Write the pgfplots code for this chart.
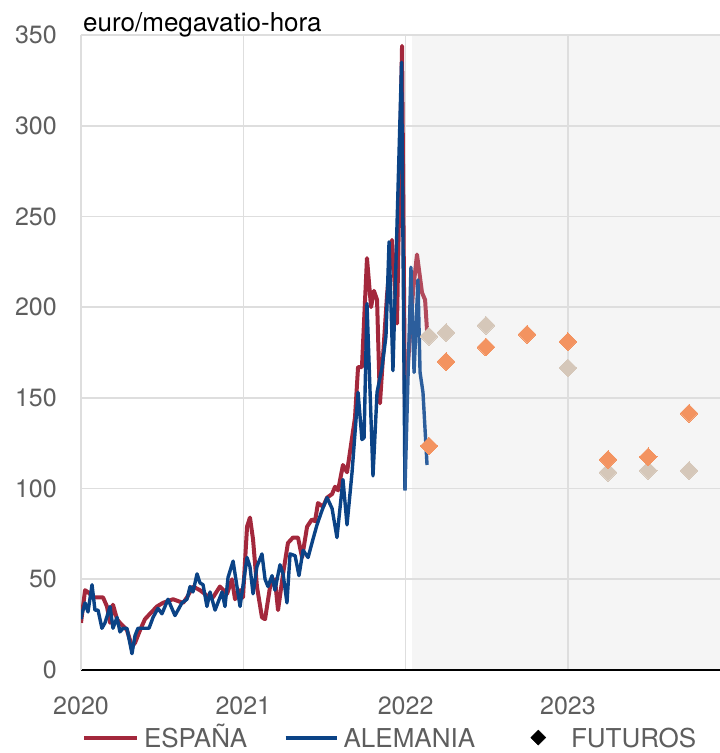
\documentclass[border=0pt]{standalone}
\usepackage{pgfplots}
\pgfplotsset{compat=1.18}
\usepackage{fontspec}
\setmainfont{TeX Gyre Heros}
\definecolor{espcol}{HTML}{A3283C}
\definecolor{espcolL}{HTML}{B24A5B}
\definecolor{alecol}{HTML}{0B4386}
\definecolor{alecolL}{HTML}{2C5E9C}
\definecolor{orangecol}{HTML}{F39360}
\definecolor{beigecol}{HTML}{D5C7B9}
\definecolor{gridcol}{HTML}{DEDEDE}
\definecolor{shadecol}{HTML}{F5F5F5}
\definecolor{tickcol}{HTML}{5E5E5E}
\begin{document}
\begin{tikzpicture}
\begin{axis}[
  name=ax,
  at={(0,0)}, anchor=south west,
  scale only axis, width=639bp, height=635bp,
  xmin=2020, xmax=2023.937, ymin=0, ymax=350,
  set layers,
  axis x line*=bottom, axis y line*=left,
  x axis line style={draw=black, line width=2bp, -},
  y axis line style={draw=gridcol, line width=1.6bp, -},
  xtick={2020,2021,2022,2023}, xticklabels={2020,2021,2022,2023},
  ytick={0,50,...,350},
  grid=major, major grid style={draw=gridcol, line width=1.6bp},
  major tick length=0pt,
  /pgf/number format/assume math mode=true,
  tick label style={font=\fontsize{25bp}{30bp}\selectfont, text=tickcol},
  yticklabel style={anchor=east, inner sep=0pt, xshift=-24bp},
  xticklabel style={anchor=north, inner sep=0pt, yshift=-27bp},
  legend columns=3,
  legend style={
    at={(0,0)}, anchor=south west, xshift=1bp, yshift=-77bp,
    draw=none, fill=none, inner sep=0pt, outer sep=0pt,
    font=\fontsize{26bp}{31bp}\selectfont, text=tickcol,
    nodes={inner sep=0pt, text depth=0pt},
    cells={anchor=base west},
    /tikz/column 1/.style={column sep=5bp},
    /tikz/column 2/.style={column sep=36.5bp},
    /tikz/column 3/.style={column sep=5bp},
    /tikz/column 4/.style={column sep=55.5bp},
    /tikz/column 5/.style={column sep=25bp},
  },
]
\begin{pgfonlayer}{axis background}
\fill[shadecol] (axis cs:2022.037,0) rectangle (rel axis cs:1,1);
\end{pgfonlayer}

% ESPANA
\addplot[espcol, line width=4bp, line join=round, forget plot] coordinates {
(2020.000,26) (2020.025,44) (2020.055,42) (2020.074,40) (2020.136,40) (2020.160,35)
(2020.179,26) (2020.197,36) (2020.222,28) (2020.240,26) (2020.283,22) (2020.314,13)
(2020.333,15) (2020.364,22) (2020.394,28) (2020.425,31) (2020.468,35) (2020.505,37)
(2020.567,39) (2020.629,37) (2020.653,40) (2020.690,46) (2020.733,44) (2020.776,41)
(2020.813,40) (2020.856,46) (2020.900,42) (2020.930,50) (2020.949,39) (2020.980,44)
(2020.998,40) (2021.023,79) (2021.041,84) (2021.060,72) (2021.084,46) (2021.115,29)
(2021.134,28) (2021.165,46) (2021.195,50) (2021.214,33) (2021.245,53) (2021.275,70)
(2021.306,73) (2021.337,73) (2021.362,62) (2021.393,79) (2021.423,83) (2021.442,82)
(2021.460,92) (2021.491,90) (2021.516,95) (2021.547,97) (2021.565,101) (2021.584,99)
(2021.614,113) (2021.639,109) (2021.670,128) (2021.688,139) (2021.707,167) (2021.731,167)
(2021.762,227) (2021.787,200) (2021.805,209) (2021.824,204) (2021.842,147) (2021.885,206)
(2021.916,237) (2021.947,191) (2021.978,344) (2021.996,145)
};
\addplot[espcolL, line width=4bp, line join=round, forget plot] coordinates {
(2021.996,145) (2022.046,209) (2022.070,229) (2022.101,208) (2022.120,204) (2022.132,187)
};

% ALEMANIA
\addplot[alecol, line width=3.4bp, line join=round, forget plot] coordinates {
(2020.000,28) (2020.006,31) (2020.025,37) (2020.043,32) (2020.068,47) (2020.086,33) (2020.105,33)
(2020.129,23) (2020.148,26) (2020.179,35) (2020.197,23) (2020.222,29) (2020.240,21)
(2020.259,23) (2020.283,23) (2020.314,9) (2020.333,19) (2020.351,23) (2020.382,23)
(2020.419,23) (2020.444,29) (2020.474,34) (2020.499,31) (2020.536,39) (2020.579,30)
(2020.622,37) (2020.653,39) (2020.672,46) (2020.690,43) (2020.715,53) (2020.733,48)
(2020.752,47) (2020.776,35) (2020.795,43) (2020.826,33) (2020.869,43) (2020.887,35)
(2020.906,51) (2020.937,60) (2020.961,46) (2020.980,35) (2021.023,62) (2021.041,57)
(2021.060,42) (2021.084,57) (2021.115,64) (2021.134,50) (2021.152,46) (2021.177,52)
(2021.195,44) (2021.226,58) (2021.245,53) (2021.269,37) (2021.288,64) (2021.319,63)
(2021.343,52) (2021.368,66) (2021.399,62) (2021.429,72) (2021.454,80) (2021.485,88)
(2021.516,95) (2021.547,89) (2021.577,73) (2021.614,105) (2021.639,80) (2021.670,109)
(2021.707,153) (2021.731,127) (2021.744,128) (2021.762,202) (2021.799,107) (2021.824,153)
(2021.855,167) (2021.879,184) (2021.898,236) (2021.922,165) (2021.975,335) (2021.996,99)
};
\addplot[alecolL, line width=3.4bp, line join=round, forget plot] coordinates {
(2021.996,99) (2022.033,222) (2022.052,164) (2022.076,215) (2022.089,164) (2022.107,153) (2022.132,113)
};

% FUTUROS
\addplot[only marks, color=beigecol, mark=square*, mark size=6.3bp, mark options={rotate=45, fill=beigecol, draw=beigecol, line width=0pt}, forget plot] coordinates {
(2022.144,184) (2022.249,186) (2022.495,190) (2023.000,166.5) (2023.247,109) (2023.494,110) (2023.746,110)
};
\addplot[only marks, color=orangecol, mark=square*, mark size=6.3bp, mark options={rotate=45, fill=orangecol, draw=orangecol, line width=0pt}, forget plot] coordinates {
(2022.144,123.5) (2022.249,170) (2022.495,178) (2022.748,185) (2023.000,181) (2023.247,116) (2023.494,117.5) (2023.746,141.5)
};

\addlegendimage{legend image code/.code={\draw[espcol, line width=4bp] (0bp,9.4bp) -- (53bp,9.4bp);}}
\addlegendentry{ESPAÑA}
\addlegendimage{legend image code/.code={\draw[alecol, line width=4bp] (0bp,9.4bp) -- (51bp,9.4bp);}}
\addlegendentry{ALEMANIA}
\addlegendimage{legend image code/.code={\fill[black] (7.5bp,1.9bp) -- (15bp,9.4bp) -- (7.5bp,16.9bp) -- (0bp,9.4bp) -- cycle;}}
\addlegendentry{FUTUROS}
\end{axis}
\node[anchor=base west, inner sep=0pt, font=\fontsize{26bp}{30bp}\selectfont, text=black]
  at ([xshift=2bp,yshift=3.5bp]ax.north west) {euro/megavatio-hora};
\pgfresetboundingbox
\path[use as bounding box] (-81bp,-83bp) rectangle (639bp,670bp);
\end{tikzpicture}
\end{document}
